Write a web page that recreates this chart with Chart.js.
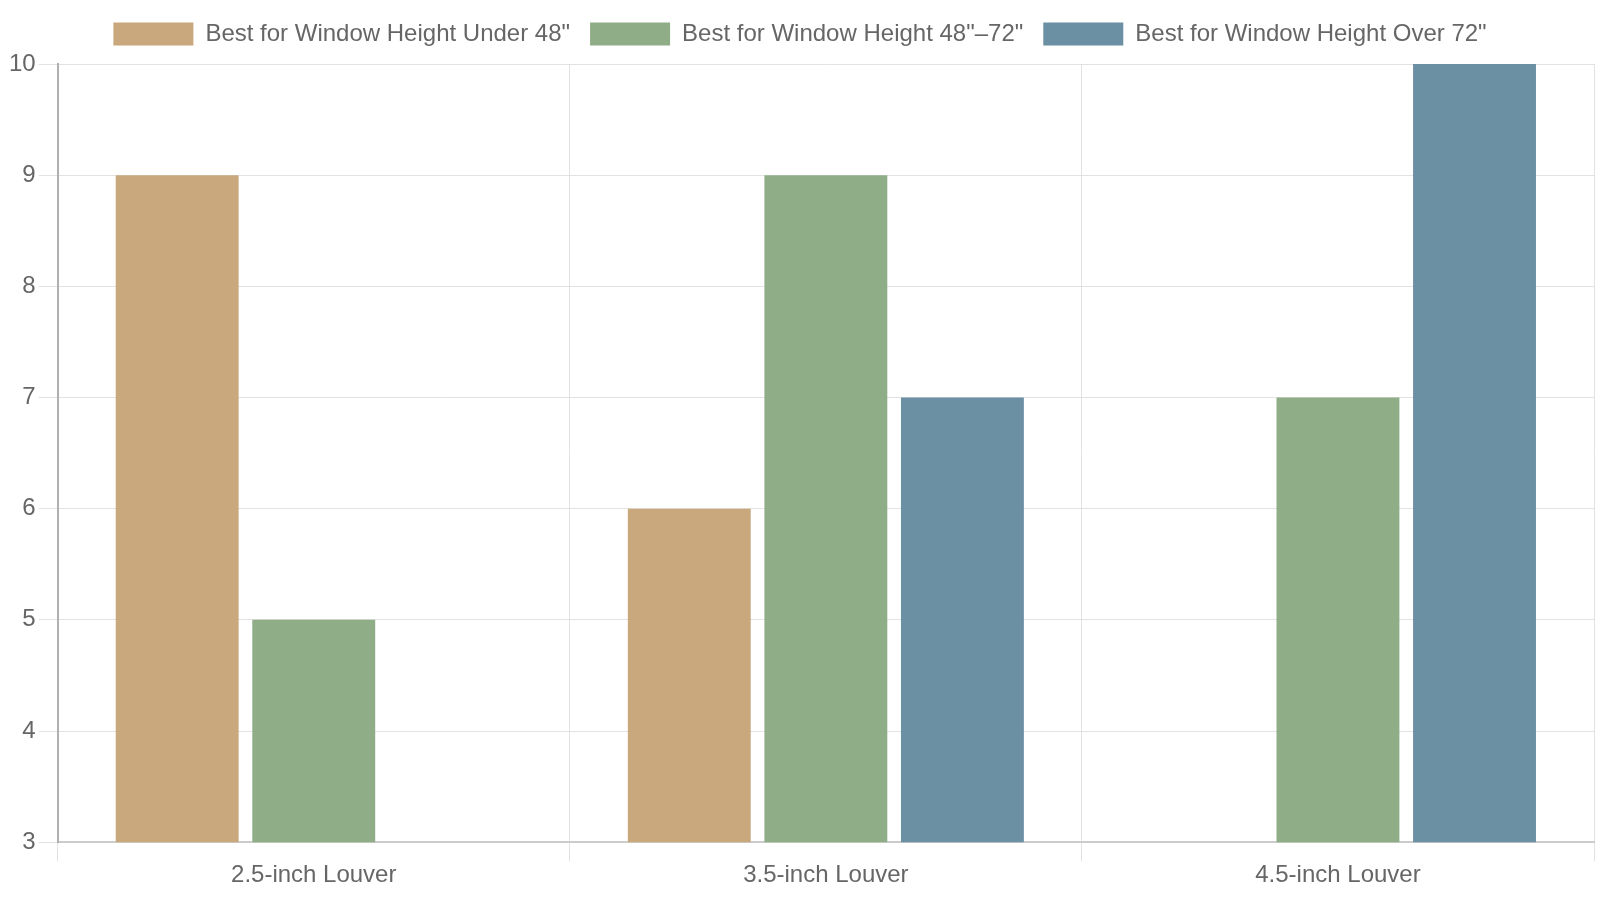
<!DOCTYPE html>
<html>
<head>
<meta charset="utf-8">
<script src="https://cdn.jsdelivr.net/npm/chart.js@4.4.1/dist/chart.umd.min.js"></script>
<style>
  html, body { margin: 0; padding: 0; background: #fff; }
  #wrap { width: 1600px; height: 900px; }
</style>
</head>
<body>
<div id="wrap"><canvas id="c"></canvas></div>
<script>
// ─── Data ─────────────────────────────────────────────────────────
const categories = ['2.5-inch Louver', '3.5-inch Louver', '4.5-inch Louver'];
const seriesNames = [
  'Best for Window Height Under 48"',
  'Best for Window Height 48"\u201372"',
  'Best for Window Height Over 72"',
];
const under48 = [9, 6, null];
const mid48to72 = [5, 9, 7];
const over72 = [null, 7, 10];
const yMin = 3, yMax = 10;

const COLORS = ['#c8a87c', '#8fae88', '#6b8fa3'];
const FONT = 'Liberation Sans, Arial, sans-serif';

Chart.defaults.font.family = FONT;
Chart.defaults.color = '#666';

const series = [under48, mid48to72, over72];

// a bit more room under the legend
const legendGap = {
  id: 'legendGap',
  beforeInit(chart) {
    const fit = chart.legend.fit;
    chart.legend.fit = function () {
      fit.bind(this)();
      this.height += 8;
    };
  },
};

new Chart(document.getElementById('c'), {
  type: 'bar',
  data: {
    labels: categories,
    datasets: series.map((d, i) => ({
      label: seriesNames[i],
      data: d,
      backgroundColor: COLORS[i],
      borderWidth: 0,
    })),
  },
  plugins: [legendGap],
  options: {
    responsive: true,
    maintainAspectRatio: false,
    animation: false,
    layout: { padding: { left: 6, right: 6, bottom: 10, top: 2 } },
    plugins: {
      legend: {
        position: 'top',
        labels: {
          boxWidth: 80,
          boxHeight: 23,
          padding: 20,
          color: '#666',
          font: { size: 24, family: FONT },
        },
      },
      tooltip: { enabled: false },
    },
    scales: {
      x: {
        grid: { color: '#e2e2e2', tickLength: 19 },
        border: { color: '#cccccc', width: 2 },
        ticks: { color: '#666', font: { size: 24, family: FONT }, padding: 0 },
      },
      y: {
        min: yMin,
        max: yMax,
        grid: { color: '#e2e2e2', tickLength: 19 },
        border: { color: '#b0b0b0', width: 2 },
        ticks: { stepSize: 1, color: '#666', font: { size: 24, family: FONT }, padding: 3 },
      },
    },
  },
});
</script>
</body>
</html>
